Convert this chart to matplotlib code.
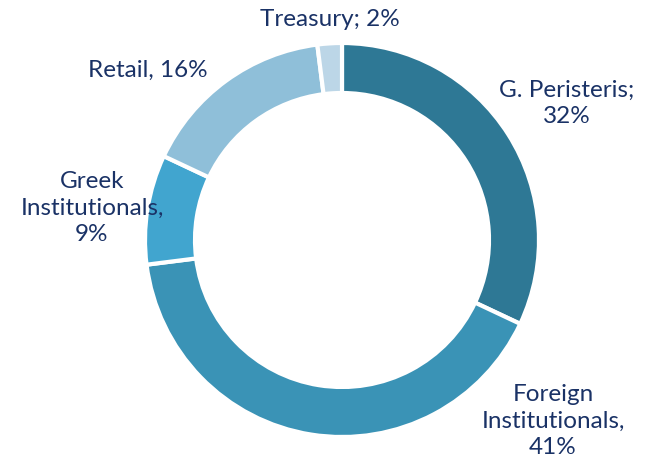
import matplotlib
matplotlib.use('Agg')
import matplotlib.pyplot as plt

# shareholder structure
names = ['G. Peristeris', 'Foreign\nInstitutionals', 'Greek\nInstitutionals', 'Retail', 'Treasury']
shares = [32, 41, 9, 16, 2]
seps = [';\n', ',\n', ',\n', ', ', '; ']
colors = ['#2e7895', '#3a93b6', '#41a5cf', '#8fbfd9', '#bcd6e7']

# label anchors in pixel coords (y from top)
label_xy = [(567, 103), (553, 421), (92, 208), (148, 70), (330, 20)]

W, H = 659, 466
fig = plt.figure(figsize=(W / 100, H / 100), dpi=100)
ax = fig.add_axes([0, 0, 1, 1])

cx, cy, r = 342, H - 240, 197
ax.pie(shares, colors=colors, startangle=90, counterclock=False,
       center=(cx, cy), radius=r, frame=True,
       wedgeprops=dict(width=50, edgecolor='white', linewidth=3))
ax.set_xlim(0, W)
ax.set_ylim(0, H)
ax.axis('off')

for name, val, sep, (x, y) in zip(names, shares, seps, label_xy):
    ax.text(x, H - y, f'{name}{sep}{val}%', ha='center', va='center',
            fontsize=17.5, family='Lato', color='#1a3266', linespacing=1.3)

fig.savefig('out.png', dpi=100)
